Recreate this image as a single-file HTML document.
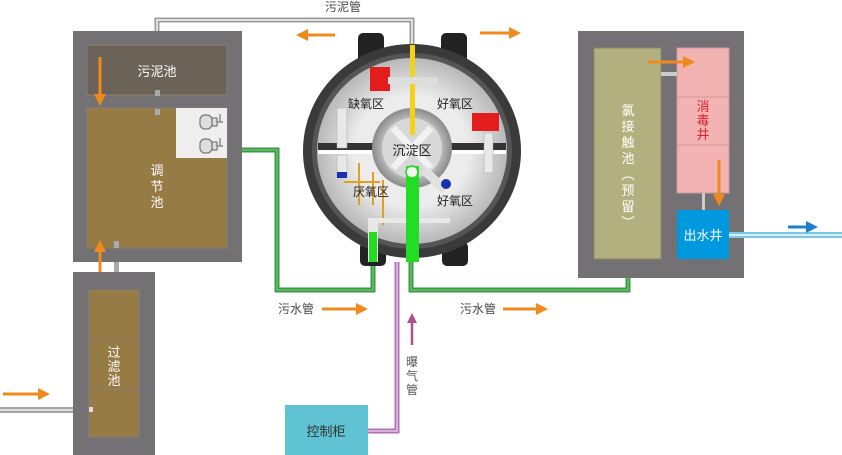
<!DOCTYPE html>
<html><head><meta charset="utf-8"><style>
html,body{margin:0;padding:0;background:#fff;}
svg{display:block;}
text{font-family:"Liberation Sans","Noto Sans CJK SC",sans-serif;}
</style></head><body>
<svg width="842" height="455" viewBox="0 0 842 455" xmlns="http://www.w3.org/2000/svg">
<defs>
<marker id="ao" markerWidth="4" markerHeight="4" refX="2" refY="2" orient="auto" markerUnits="strokeWidth"><path d="M0,0 L4,2 L0,4 Z" fill="#f08a1c"/></marker>
<marker id="ab" markerWidth="4" markerHeight="4" refX="2" refY="2" orient="auto" markerUnits="strokeWidth"><path d="M0,0 L4,2 L0,4 Z" fill="#1a7fd0"/></marker>
<marker id="ap" markerWidth="4" markerHeight="4" refX="2" refY="2" orient="auto" markerUnits="strokeWidth"><path d="M0,0 L4,2 L0,4 Z" fill="#b0508f"/></marker>
<radialGradient id="cg" cx="0.5" cy="0.5" r="0.5"><stop offset="0.6" stop-color="#ececec"/><stop offset="1" stop-color="#b8b8b8"/></radialGradient>
<radialGradient id="sg" cx="0.5" cy="0.5" r="0.5"><stop offset="0.5" stop-color="#e8e8e8"/><stop offset="1" stop-color="#8a8a8a"/></radialGradient>
</defs>

<!-- sludge pipe -->
<path d="M157,50 V20 H412 V45" fill="none" stroke="#9a9a9a" stroke-width="5"/>
<path d="M157,50 V20 H412 V45" fill="none" stroke="#e0e0e0" stroke-width="2"/>
<text x="325" y="11" font-size="12" fill="#444">污泥管</text>
<line x1="335" y1="35" x2="302" y2="35" stroke="#f08a1c" stroke-width="3" marker-end="url(#ao)"/>
<line x1="480" y1="33" x2="515" y2="33" stroke="#f08a1c" stroke-width="3" marker-end="url(#ao)"/>

<!-- left tank -->
<rect x="73" y="31" width="169" height="231" fill="#737173"/>
<rect x="87" y="45" width="140" height="50" fill="#6b6358" stroke="#857e73" stroke-width="1"/>
<text x="157" y="76" font-size="13" fill="#fff" text-anchor="middle">污泥池</text>
<rect x="87" y="108" width="140" height="140" fill="#967b45" stroke="#857e73" stroke-width="1"/>
<rect x="176" y="108" width="51" height="50" fill="#eeeeee"/>
<g fill="#ddd" stroke="#777" stroke-width="1.2">
<rect x="200" y="115" width="12" height="14" rx="5"/><rect x="212" y="118" width="5" height="8"/><path d="M217,122 h6 M220,114 v8"/>
<rect x="200" y="139" width="12" height="14" rx="5"/><rect x="212" y="142" width="5" height="8"/><path d="M217,146 h6 M220,138 v8"/>
</g>
<text font-size="13" fill="#fff" text-anchor="middle"><tspan x="157" y="175">调</tspan><tspan x="157" y="191">节</tspan><tspan x="157" y="207">池</tspan></text>
<rect x="155" y="90" width="5" height="6" fill="#aaa"/>
<rect x="155" y="109" width="5" height="6" fill="#aaa"/>
<rect x="114" y="241" width="5" height="7" fill="#aaa"/>
<rect x="114" y="262" width="5" height="10" fill="#aaa"/>
<line x1="100" y1="57" x2="100" y2="100" stroke="#f08a1c" stroke-width="3" marker-end="url(#ao)" transform="translate(0,0)"/>
<line x1="100" y1="290" x2="100" y2="246" stroke="#f08a1c" stroke-width="3" marker-end="url(#ao)"/>

<!-- filter tank -->
<rect x="73" y="272" width="82" height="183" fill="#737173"/>
<rect x="89" y="290" width="50" height="50" fill="#967b45" stroke="#857e73"/>
<rect x="89" y="340" width="50" height="49" fill="#967b45" stroke="#857e73"/>
<rect x="89" y="389" width="50" height="48" fill="#967b45" stroke="#857e73"/>
<text font-size="13" fill="#fff" text-anchor="middle"><tspan x="114" y="357">过</tspan><tspan x="114" y="371">滤</tspan><tspan x="114" y="385">池</tspan></text>
<rect x="0" y="407" width="73" height="6" fill="#a6a6a6"/><rect x="0" y="409" width="73" height="2" fill="#ddd"/>
<rect x="89" y="407" width="4" height="5" fill="#ddd"/>
<line x1="3" y1="394" x2="44" y2="394" stroke="#f08a1c" stroke-width="3" marker-end="url(#ao)"/>

<!-- green pipes -->
<path d="M242,150 H277 V290 H373 V262" fill="none" stroke="#3a9a44" stroke-width="5"/>
<path d="M242,150 H277 V290 H373 V262" fill="none" stroke="#6cc070" stroke-width="1.5"/>
<path d="M411,262 V290 H628 V278" fill="none" stroke="#3a9a44" stroke-width="5"/>
<path d="M411,262 V290 H628 V278" fill="none" stroke="#6cc070" stroke-width="1.5"/>
<text x="278" y="313" font-size="12" fill="#444">污水管</text>
<line x1="322" y1="309" x2="362" y2="309" stroke="#f08a1c" stroke-width="3" marker-end="url(#ao)"/>
<text x="460" y="313" font-size="12" fill="#444">污水管</text>
<line x1="503" y1="309" x2="542" y2="309" stroke="#f08a1c" stroke-width="3" marker-end="url(#ao)"/>

<!-- purple pipe -->
<path d="M397,262 V431 H368" fill="none" stroke="#b26fb6" stroke-width="5"/>
<path d="M397,262 V431 H368" fill="none" stroke="#e8c4ea" stroke-width="1.5"/>
<line x1="412" y1="345" x2="412" y2="318" stroke="#b0508f" stroke-width="2.5" marker-end="url(#ap)"/>
<text font-size="12" fill="#555" text-anchor="middle"><tspan x="412" y="366">曝</tspan><tspan x="412" y="380">气</tspan><tspan x="412" y="394">管</tspan></text>
<rect x="285" y="405" width="83" height="50" fill="#5fc3d3"/>
<text x="326" y="436" font-size="13" fill="#333" text-anchor="middle">控制柜</text>

<!-- round tank -->
<rect x="358" y="33" width="26" height="30" rx="5" fill="#222"/>
<rect x="441" y="33" width="26" height="30" rx="5" fill="#222"/>
<rect x="360" y="242" width="26" height="24" rx="5" fill="#222"/>
<rect x="442" y="242" width="26" height="24" rx="5" fill="#222"/>
<ellipse cx="412" cy="151" rx="109" ry="107" fill="#3a3a3a"/>
<ellipse cx="412" cy="151" rx="100" ry="98" fill="#555"/>
<ellipse cx="412" cy="151" rx="95" ry="93" fill="url(#cg)"/>
<rect x="318" y="143" width="188" height="7" fill="#333"/>
<rect x="318" y="150" width="188" height="4" fill="#fff"/>
<circle cx="412" cy="148" r="40" fill="url(#sg)"/>
<circle cx="412" cy="148" r="30" fill="#d8d8d8"/>
<g stroke="#f2f2f2" stroke-width="7"><line x1="393" y1="128" x2="431" y2="168"/><line x1="431" y1="128" x2="393" y2="168"/></g>
<text x="412" y="155" font-size="13" fill="#222" text-anchor="middle">沉淀区</text>
<rect x="410" y="45" width="5" height="90" fill="#f3d21a"/>
<rect x="370" y="67" width="20" height="24" fill="#e31c1c"/>
<rect x="388" y="77" width="50" height="7" fill="#ddd"/>
<rect x="472" y="113" width="27" height="18" fill="#e31c1c"/>
<rect x="337" y="108" width="10" height="40" fill="#e8e8e8" stroke="#aaa" stroke-width="0.5"/>
<rect x="337" y="155" width="10" height="22" fill="#e8e8e8" stroke="#aaa" stroke-width="0.5"/>
<rect x="337" y="172" width="10" height="6" fill="#1a2fb0"/>
<rect x="484" y="133" width="9" height="40" fill="#e8e8e8" stroke="#aaa" stroke-width="0.5"/>
<line x1="424" y1="170" x2="445" y2="190" stroke="#e0e0e0" stroke-width="9"/>
<circle cx="446" cy="184" r="5" fill="#1a2fb0"/>
<g stroke="#e0a020" stroke-width="2" fill="none"><path d="M344,182 H380 M359,163 V205 M373,172 V205 M383,180 V225"/></g>
<rect x="368" y="218" width="10" height="44" fill="#e8e8e8"/>
<rect x="369" y="232" width="8" height="30" fill="#22dd22"/>
<rect x="378" y="218" width="72" height="5" fill="#e8e8e8"/>
<rect x="406" y="166" width="13" height="96" fill="#22dd22"/>
<circle cx="412" cy="172" r="6" fill="#f4f4f4" stroke="#22dd22" stroke-width="1.5"/>
<text x="366" y="108" font-size="12" fill="#222" text-anchor="middle">缺氧区</text>
<text x="455" y="108" font-size="12" fill="#222" text-anchor="middle">好氧区</text>
<text x="371" y="196" font-size="12" fill="#222" text-anchor="middle">厌氧区</text>
<text x="455" y="205" font-size="12" fill="#222" text-anchor="middle">好氧区</text>

<!-- right tank -->
<rect x="578" y="31" width="166" height="247" fill="#737173"/>
<rect x="594" y="48" width="67" height="211" fill="#b3b07f" stroke="#8a8866"/>
<text font-size="13" fill="#fff" text-anchor="middle"><tspan x="628" y="115">氯</tspan><tspan x="628" y="131">接</tspan><tspan x="628" y="147">触</tspan><tspan x="628" y="163">池</tspan><tspan x="628" y="179">︵</tspan><tspan x="628" y="195">预</tspan><tspan x="628" y="211">留</tspan><tspan x="628" y="227">︶</tspan></text>
<rect x="677" y="48" width="52" height="49" fill="#f3b3b3" stroke="#c99"/>
<rect x="677" y="97" width="52" height="48" fill="#f3b3b3" stroke="#c99"/>
<rect x="677" y="145" width="52" height="48" fill="#f3b3b3" stroke="#c99"/>
<text font-size="13" fill="#e02030" text-anchor="middle"><tspan x="703" y="111">消</tspan><tspan x="703" y="125">毒</tspan><tspan x="703" y="139">井</tspan></text>
<rect x="661" y="72" width="16" height="4" fill="#ccc"/>
<rect x="702" y="193" width="3" height="17" fill="#ccc"/>
<line x1="648" y1="62" x2="689" y2="62" stroke="#f08a1c" stroke-width="3" marker-end="url(#ao)"/>
<line x1="719" y1="160" x2="719" y2="200" stroke="#f08a1c" stroke-width="3" marker-end="url(#ao)"/>
<rect x="677" y="210" width="52" height="49" fill="#0099e0"/>
<text x="703" y="240" font-size="13" fill="#fff" text-anchor="middle">出水井</text>
<rect x="729" y="232" width="113" height="6" fill="#7cc8e0"/><rect x="729" y="234" width="113" height="2" fill="#d6f0f8"/>
<line x1="788" y1="227" x2="812" y2="227" stroke="#1a7fd0" stroke-width="3" marker-end="url(#ab)"/>
</svg>
</body></html>
